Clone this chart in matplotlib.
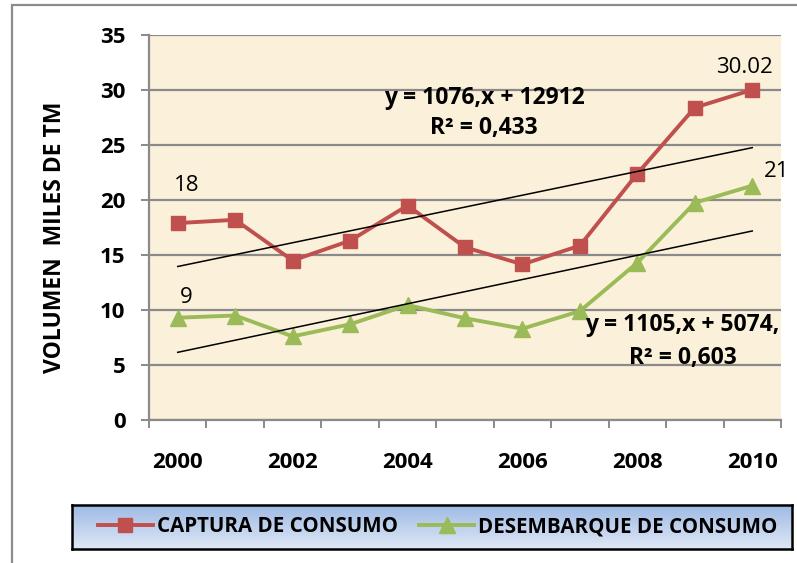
import numpy as np
import matplotlib
matplotlib.use("Agg")
import matplotlib.pyplot as plt
from matplotlib.patches import Rectangle
from matplotlib.lines import Line2D

plt.rcParams['font.family'] = ['Open Sans', 'DejaVu Sans']

# data
years = [2000, 2001, 2002, 2003, 2004, 2005, 2006, 2007, 2008, 2009, 2010]
captura = [17.9, 18.2, 14.5, 16.3, 19.5, 15.7, 14.15, 15.85, 22.4, 28.4, 30.02]
desembarque = [9.3, 9.5, 7.6, 8.7, 10.45, 9.25, 8.3, 9.9, 14.3, 19.75, 21.3]
year_labels = ['2000', '2002', '2004', '2006', '2008', '2010']
y_ticks = [0, 5, 10, 15, 20, 25, 30, 35]
series_names = ['CAPTURA DE CONSUMO', 'DESEMBARQUE DE CONSUMO']
eq_captura = ['y = 1076,x + 12912', 'R² = 0,433']
eq_desemb = ['y = 1105,x + 5074,', 'R² = 0,603']
point_labels = ['18', '9', '30.02', '21']

RED = '#C0504D'
GREEN = '#9BBB59'
GRID = '#8A8A8A'
FS_TICK = 16
FS_EQ = 16.5
FS_LAB = 16
FS_LEG = 14.8

W, H = 797, 563
fig = plt.figure(figsize=(W / 100, H / 100), dpi=100)

# outer chart frame (cropped on the right and bottom)
fig.add_artist(Rectangle((12 / W, -0.05), 1.2, 1 - 5 / H + 0.05,
                         transform=fig.transFigure, fill=False,
                         edgecolor='#8C8C8C', linewidth=1.6, zorder=-1))

ax = fig.add_axes([149 / W, 1 - 420 / H, (781 - 149) / W, (420 - 35) / H])
ax.set_facecolor('#FBF0D9')

x = np.arange(len(years))
ax.plot(x, captura, color=RED, lw=2.8, marker='s', ms=10, zorder=3)
ax.plot(x, desembarque, color=GREEN, lw=2.8, marker='^', ms=11, zorder=3)

# linear trend lines
for vals in (captura, desembarque):
    k, b = np.polyfit(x, vals, 1)
    ax.plot([x[0], x[-1]], [b, k * x[-1] + b], color='black', lw=1.1, zorder=4)

ax.set_xlim(-0.5, len(years) - 0.5)
ax.set_ylim(0, 35)
ax.set_yticks(y_ticks)
ax.set_yticklabels([str(v) for v in y_ticks], fontsize=FS_TICK, fontweight='bold')
ax.yaxis.grid(True, color=GRID, lw=1.6)
ax.set_axisbelow(True)

ax.set_xticks(np.arange(len(years) + 1) - 0.5)
ax.set_xticklabels([])
ax.set_xticks(x[::2], minor=True)
ax.set_xticklabels(year_labels, minor=True, fontsize=FS_TICK, fontweight='bold')
ax.tick_params(axis='x', which='major', length=6, width=1.4, color=GRID)
ax.tick_params(axis='x', which='minor', length=0, pad=23)
ax.tick_params(axis='y', length=6, width=1.4, color=GRID, pad=11)

for side in ('top', 'right'):
    ax.spines[side].set_visible(False)
for side in ('left', 'bottom'):
    ax.spines[side].set_color(GRID)
    ax.spines[side].set_linewidth(1.6)

# trend equations
ax.text(5.34, 29.27, eq_captura[0], ha='center', va='center', fontsize=FS_EQ, fontweight='bold')
ax.text(5.33, 26.55, eq_captura[1], ha='center', va='center', fontsize=FS_EQ, fontweight='bold')
ax.text(8.78, 8.64, eq_desemb[0], ha='center', va='center', fontsize=FS_EQ, fontweight='bold', zorder=5)
ax.text(8.80, 5.64, eq_desemb[1], ha='center', va='center', fontsize=FS_EQ, fontweight='bold', zorder=5)

# point labels
ax.text(0.15, captura[0] + 3.4, point_labels[0], ha='center', va='center', fontsize=FS_LAB)
ax.text(0.14, desembarque[0] + 1.8, point_labels[1], ha='center', va='center', fontsize=FS_LAB)
ax.text(9.87, captura[-1] + 2.0, point_labels[2], ha='center', va='center', fontsize=FS_LAB)
ax.text(10.43, desembarque[-1] + 1.3, point_labels[3], ha='center', va='center', fontsize=FS_LAB)

fig.text(55 / W, 1 - 237 / H, 'VOLUMEN  MILES DE TM', rotation=90,
         ha='center', va='center', fontsize=FS_EQ, fontweight='bold')

# legend box with blue gradient
lax = fig.add_axes([72 / W, 1 - 549 / H, 720 / W, 44 / H])
lax.set_zorder(10)
grad = np.linspace(0, 1, 100).reshape(-1, 1, 1)
top = np.array(matplotlib.colors.to_rgb('#9EBAE4'))
bot = np.array(matplotlib.colors.to_rgb('#DFE8F6'))
img = top + (bot - top) * grad
lax.imshow(img, aspect='auto', extent=[0, 1, 0, 1], origin='upper')
lax.set_xlim(0, 1)
lax.set_ylim(0, 1)
lax.set_xticks([])
lax.set_yticks([])
for s in lax.spines.values():
    s.set_linewidth(1.8)
    s.set_color('black')

handles = [Line2D([], [], color=RED, lw=2.8, marker='s', ms=10),
           Line2D([], [], color=GREEN, lw=2.8, marker='^', ms=11)]
lax.legend(handles, series_names, loc='center', bbox_to_anchor=(0.508, 0.5),
           ncol=2, frameon=False, borderaxespad=0, borderpad=0,
           handlelength=2.7, handletextpad=0.2, columnspacing=1.0,
           prop={'size': FS_LEG, 'weight': 'bold'})

fig.savefig('out.png', dpi=100)
